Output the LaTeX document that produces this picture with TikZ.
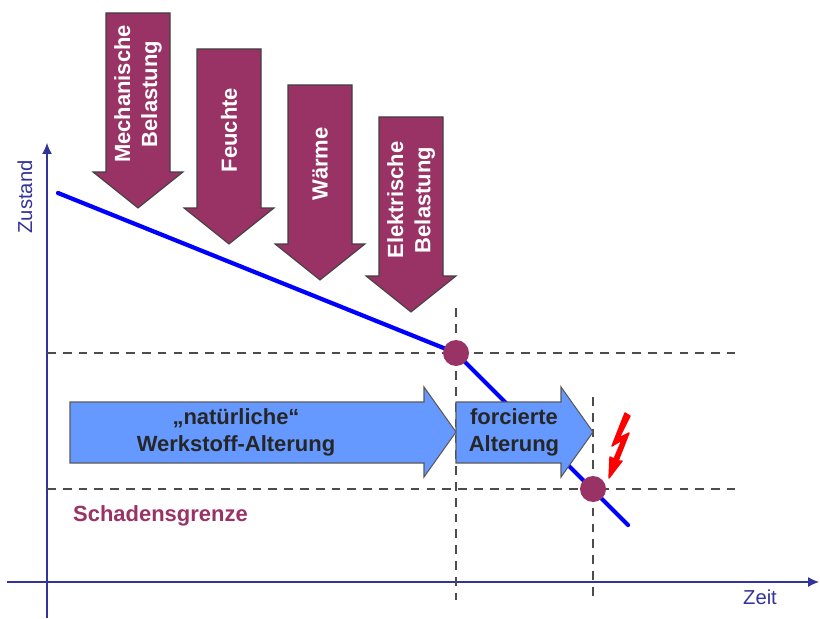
\documentclass[tikz,border=0pt]{standalone}
\usepackage{fontspec}
\setmainfont{Liberation Sans}
\usetikzlibrary{arrows.meta}

\definecolor{bordeaux}{HTML}{993366}
\definecolor{hellblau}{HTML}{6699FF}
\definecolor{achsblau}{HTML}{333399}

\begin{document}
\begin{tikzpicture}[x=0.02cm,y=-0.02cm,
  einfluss/.style={fill=bordeaux, draw=black!75, line width=0.6pt},
  einflusstext/.style={rotate=90, text=white, align=center,
    font=\fontsize{12.5}{15.5}\selectfont\bfseries},
  alterung/.style={fill=hellblau, draw=black!65, line width=0.6pt},
  alterungtext/.style={text=black!85, align=center,
    font=\fontsize{12.5}{15.5}\selectfont\bfseries},
  hilfslinie/.style={black!70, line width=0.6pt, dash pattern=on 5pt off 4pt},
  kennlinie/.style={blue, line width=2.4pt, line cap=round},
  punkt/.style={circle, fill=bordeaux, inner sep=0pt, minimum size=0.52cm},
  achse/.style={achsblau, line width=0.6pt, -{Latex[length=0.22cm,width=0.2cm]}},
  achstext/.style={text=achsblau, font=\fontsize{11.5}{13}\selectfont}]

 \useasboundingbox (0,0) rectangle (820,618);

 % points
 \coordinate (ybot)  at (47,618);
 \coordinate (ytip)  at (47,143);
 \coordinate (xleft) at (7,582);
 \coordinate (xtip)  at (819,582);

 \coordinate (start) at (58,193);
 \coordinate (knie)  at (456,353);
 \coordinate (ende)  at (628,525);
 \coordinate (bruch) at (593,489);

 \coordinate (h1a) at (47,353);  \coordinate (h1b) at (735,353);
 \coordinate (h2a) at (47,489);  \coordinate (h2b) at (735,489);
 \coordinate (v1a) at (456,308); \coordinate (v1b) at (456,600);
 \coordinate (v2a) at (593,397); \coordinate (v2b) at (593,600);

 % axes
 \draw[achse] (ybot) -- (ytip);
 \draw[achse] (xleft) -- (xtip);
 \node[achstext, rotate=90] (zustand) at (25,197) {Zustand};
 \node[achstext] (zeit) at (760,597) {Zeit};

 % dashed lines
 \draw[hilfslinie] (h1a) -- (h1b);
 \draw[hilfslinie] (h2a) -- (h2b);
 \draw[hilfslinie] (v1a) -- (v1b);
 \draw[hilfslinie] (v2a) -- (v2b);

 % state line
 \draw[kennlinie] (start) -- (knie) -- (ende);

 % ageing arrows
 \draw[alterung] (70,402) -- (424,402) -- (424,387) -- (456,432) -- (424,477) -- (424,463) -- (70,463) -- cycle;
 \draw[alterung] (456,402) -- (561,402) -- (561,387) -- (593,432) -- (561,477) -- (561,463) -- (456,463) -- cycle;
 \node[alterungtext] (natur) at (236,432) {„natürliche“\\Werkstoff-Alterung};
 \node[alterungtext] (forciert) at (514,432) {forcierte\\Alterung};

 % points on the line
 \node[punkt] (kniepunkt) at (knie) {};
 \node[punkt] (bruchpunkt) at (bruch) {};

 % loads
 \draw[einfluss] (106,13) -- ++(64,0) -- ++(0,159) -- ++(13,0) -- ++(-45,36) -- ++(-45,-36) -- ++(13,0) -- cycle;
 \draw[einfluss] (197,49) -- ++(64,0) -- ++(0,159) -- ++(13,0) -- ++(-45,36) -- ++(-45,-36) -- ++(13,0) -- cycle;
 \draw[einfluss] (288,85) -- ++(64,0) -- ++(0,159) -- ++(13,0) -- ++(-45,36) -- ++(-45,-36) -- ++(13,0) -- cycle;
 \draw[einfluss] (379,117) -- ++(64,0) -- ++(0,159) -- ++(13,0) -- ++(-45,36) -- ++(-45,-36) -- ++(13,0) -- cycle;

 \node[einflusstext] (mechanisch) at (138,94) {Mechanische\\Belastung};
 \node[einflusstext] (feuchte) at (229,130) {Feuchte};
 \node[einflusstext] (waerme) at (320,164) {Wärme};
 \node[einflusstext] (elektrisch) at (411,200) {Elektrische\\Belastung};

 % lightning
 \draw[red, line width=0.8pt, fill=red, line join=round]
   (625,413) -- (630,416) -- (619,438) -- (629,433) -- (618,461) -- (622,461)
   -- (609,478) -- (610,457) -- (614,459) -- (622,440) -- (612,446) -- cycle;

 % legend
 \node[anchor=west, text=bordeaux, font=\fontsize{12.5}{15}\selectfont\bfseries] (grenze) at (67,516) {Schadensgrenze};

\end{tikzpicture}
\end{document}
